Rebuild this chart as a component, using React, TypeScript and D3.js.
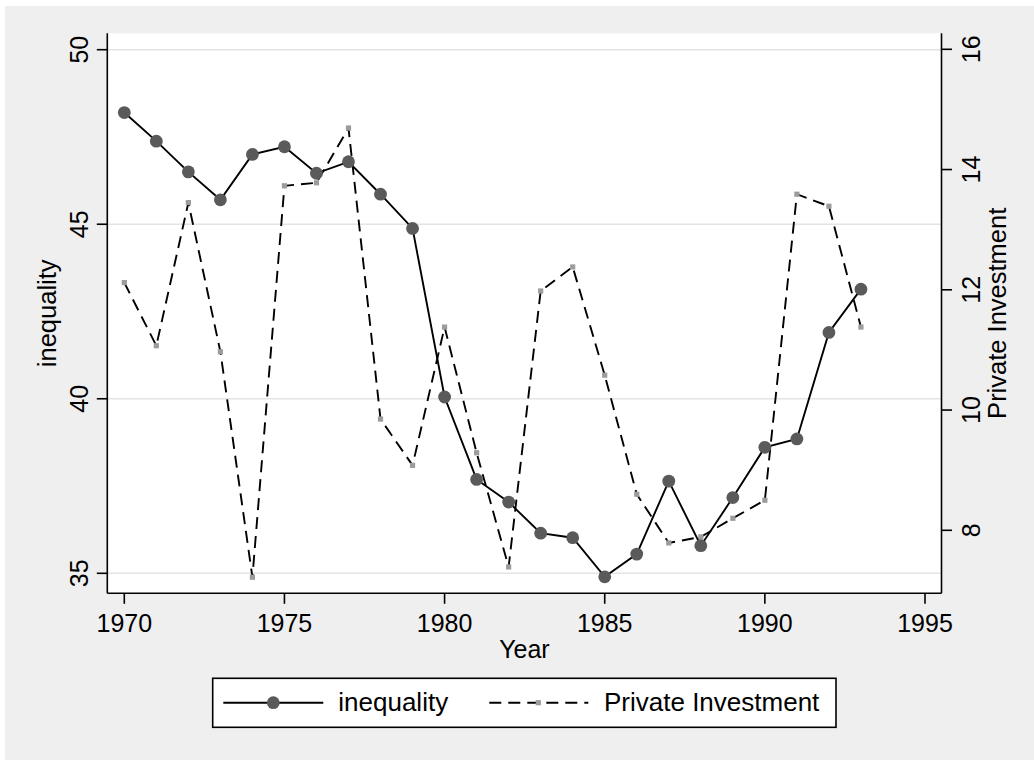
import React from "react";
import * as d3 from "d3";

const years = [1970,1971,1972,1973,1974,1975,1976,1977,1978,1979,1980,1981,1982,1983,1984,1985,1986,1987,1988,1989,1990,1991,1992,1993];
const inequality = [48.2,47.38,46.5,45.7,47.0,47.22,46.46,46.79,45.86,44.88,40.05,37.69,37.04,36.15,36.02,34.9,35.55,37.64,35.79,37.17,38.61,38.85,41.9,43.14];
const privateInvestment = [12.12,11.07,13.45,10.97,7.22,13.73,13.78,14.69,9.85,9.08,11.38,9.29,7.39,11.98,12.38,10.58,8.6,7.79,7.89,8.2,8.5,13.59,13.39,11.38];
const xTicks = [1970,1975,1980,1985,1990,1995];
const yLeftTicks = [35,40,45,50];
const yRightTicks = [8,10,12,14,16];

const FONT = "'Liberation Sans', Arial, Helvetica, sans-serif";

export default function App() {
  const W = 1034, H = 760;
  const plotL = 107.3, plotR = 941.5, plotT = 33.3, plotB = 593.3;
  const x = d3.scaleLinear().domain([1970, 1995]).range([124.3, 925]);
  const yL = d3.scaleLinear().domain([35, 50]).range([573.3, 49.7]);
  const yR = d3.scaleLinear().domain([8, 16]).range([530.3, 49.3]);

  const lineIneq = d3.line<number>().x((_, i) => x(years[i])).y((d) => yL(d))(inequality) || "";
  const linePI = d3.line<number>().x((_, i) => x(years[i])).y((d) => yR(d))(privateInvestment) || "";
  const midY = (plotT + plotB) / 2;
  const midX = (plotL + plotR) / 2;
  const tickLen = 10.5;
  const dash = "12,7";

  return (
    <svg width={W} height={H} style={{ position: "absolute", left: 0, top: 0, fontFamily: FONT }}>
      <rect x={0} y={0} width={W} height={H} fill="#ffffff" />
      <rect x={5} y={6} width={W - 5} height={H - 6} fill="#efefef" />
      <rect x={plotL} y={plotT} width={plotR - plotL} height={plotB - plotT} fill="#ffffff" />
      {yLeftTicks.map((t) => (
        <line key={"g" + t} x1={plotL} x2={plotR} y1={yL(t)} y2={yL(t)} stroke="#e4e4e4" strokeWidth={1.5} />
      ))}
      {/* series */}
      <path d={linePI} fill="none" stroke="#000" strokeWidth={1.9} strokeDasharray={dash} />
      {privateInvestment.map((v, i) => (
        <rect key={"s" + i} x={x(years[i]) - 2.6} y={yR(v) - 2.6} width={5.2} height={5.2} fill="#9c9c9c" />
      ))}
      <path d={lineIneq} fill="none" stroke="#000" strokeWidth={1.9} />
      {inequality.map((v, i) => (
        <circle key={"c" + i} cx={x(years[i])} cy={yL(v)} r={6.4} fill="#5a5a5a" />
      ))}
      {/* axes */}
      <line x1={plotL} x2={plotL} y1={plotT} y2={plotB} stroke="#000" strokeWidth={1.6} />
      <line x1={plotR} x2={plotR} y1={plotT} y2={plotB} stroke="#000" strokeWidth={1.6} />
      <line x1={plotL} x2={plotR} y1={plotB} y2={plotB} stroke="#000" strokeWidth={1.6} />
      {yLeftTicks.map((t) => (
        <g key={"l" + t}>
          <line x1={plotL - tickLen} x2={plotL} y1={yL(t)} y2={yL(t)} stroke="#000" strokeWidth={1.6} />
          <text transform={`translate(87.5, ${yL(t)}) rotate(-90)`} textAnchor="middle" fontSize={25} fill="#000">{t}</text>
        </g>
      ))}
      {yRightTicks.map((t) => (
        <g key={"r" + t}>
          <line x1={plotR} x2={plotR + tickLen} y1={yR(t)} y2={yR(t)} stroke="#000" strokeWidth={1.6} />
          <text transform={`translate(980, ${yR(t)}) rotate(-90)`} textAnchor="middle" fontSize={25} fill="#000">{t}</text>
        </g>
      ))}
      {xTicks.map((t) => (
        <g key={"x" + t}>
          <line x1={x(t)} x2={x(t)} y1={plotB} y2={plotB + tickLen} stroke="#000" strokeWidth={1.6} />
          <text x={x(t)} y={631.5} textAnchor="middle" fontSize={25} fill="#000">{t}</text>
        </g>
      ))}
      <text transform={`translate(56, ${midY}) rotate(-90)`} textAnchor="middle" fontSize={25.5} fill="#000">inequality</text>
      <text transform={`translate(1006, ${midY}) rotate(-90)`} textAnchor="middle" fontSize={25.5} fill="#000">Private Investment</text>
      <text x={midX} y={658} textAnchor="middle" fontSize={25} fill="#000">Year</text>
      {/* legend */}
      <rect x={212.7} y={678.3} width={836 - 212.7} height={727.3 - 678.3} fill="#ffffff" stroke="#000" strokeWidth={1.6} />
      <line x1={223.3} x2={323.3} y1={702.7} y2={702.7} stroke="#000" strokeWidth={1.9} />
      <circle cx={273.3} cy={702.7} r={6.4} fill="#5a5a5a" />
      <text x={338.3} y={711.3} fontSize={26} fill="#000">inequality</text>
      <line x1={489.3} x2={588.3} y1={702.7} y2={702.7} stroke="#000" strokeWidth={1.9} strokeDasharray={dash} />
      <rect x={538.3 - 2.6} y={702.7 - 2.6} width={5.2} height={5.2} fill="#9c9c9c" />
      <text x={604} y={711.3} fontSize={26} fill="#000">Private Investment</text>
    </svg>
  );
}
